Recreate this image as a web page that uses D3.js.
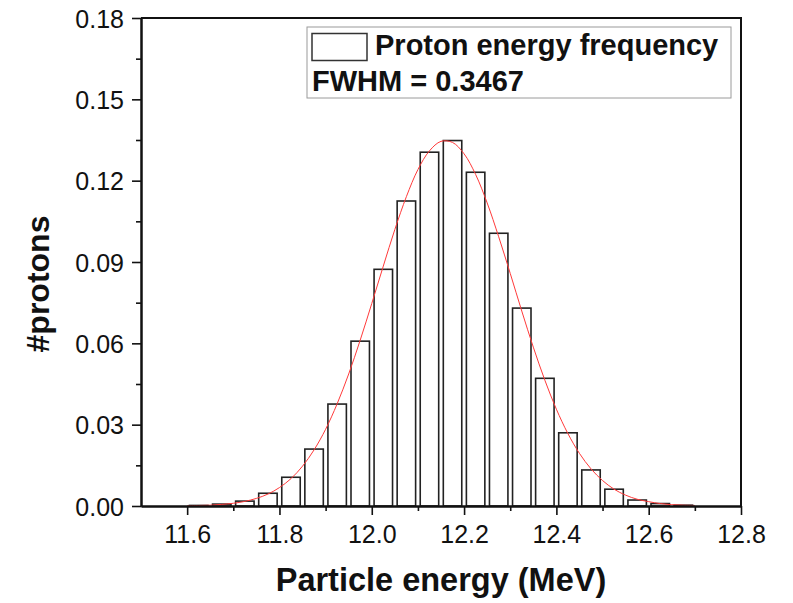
<!DOCTYPE html>
<html>
<head>
<meta charset="utf-8">
<script src="https://cdn.jsdelivr.net/npm/d3@7"></script>
<style>
  html, body { margin: 0; padding: 0; background: #fff; }
  svg { display: block; font-family: "Liberation Sans", Arial, Helvetica, sans-serif; }
</style>
</head>
<body>
<svg id="chart" width="793" height="603"></svg>
<script>
// ---- data ----
const binCenters = [11.625, 11.675, 11.725, 11.775, 11.825, 11.875, 11.925, 11.975, 12.025, 12.075, 12.125,
                    12.175, 12.225, 12.275, 12.325, 12.375, 12.425, 12.475, 12.525, 12.575, 12.625, 12.675];
const binValues  = [0.0002, 0.0007, 0.0018, 0.0047, 0.0106, 0.0210, 0.0376, 0.0608, 0.0873, 0.1125, 0.1305,
                    0.1348, 0.1231, 0.1006, 0.0730, 0.0471, 0.0270, 0.0133, 0.0062, 0.0022, 0.0009, 0.0003];
const binWidth = 0.04;

// Gaussian fit curve (red line)
const fitX = [11.600, 11.625, 11.650, 11.675, 11.700, 11.725, 11.750, 11.775, 11.800, 11.825, 11.850, 11.875,
              11.900, 11.925, 11.950, 11.975, 12.000, 12.025, 12.050, 12.075, 12.100, 12.125, 12.150, 12.175,
              12.200, 12.225, 12.250, 12.275, 12.300, 12.325, 12.350, 12.375, 12.400, 12.425, 12.450, 12.475,
              12.500, 12.525, 12.550, 12.575, 12.600, 12.625, 12.650, 12.675, 12.700];
const fitY = [0.0001, 0.0002, 0.0003, 0.0006, 0.0010, 0.0017, 0.0028, 0.0044, 0.0068, 0.0101, 0.0147, 0.0207,
              0.0283, 0.0377, 0.0487, 0.0612, 0.0747, 0.0885, 0.1020, 0.1141, 0.1241, 0.1310, 0.1345, 0.1341,
              0.1299, 0.1223, 0.1118, 0.0993, 0.0858, 0.0719, 0.0586, 0.0464, 0.0357, 0.0267, 0.0194, 0.0137,
              0.0094, 0.0062, 0.0040, 0.0025, 0.0016, 0.0009, 0.0005, 0.0003, 0.0002];

const xTicks = [11.6, 11.8, 12.0, 12.2, 12.4, 12.6, 12.8];
const xMinorTicks = [11.7, 11.9, 12.1, 12.3, 12.5, 12.7];
const yTicks = [0.00, 0.03, 0.06, 0.09, 0.12, 0.15, 0.18];
const yMinorTicks = [0.015, 0.045, 0.075, 0.105, 0.135, 0.165];

const xLabel = "Particle energy (MeV)";
const yLabel = "#protons";
const legendLabel = "Proton energy frequency";
const fwhmLabel = "FWHM = 0.3467";

// ---- layout ----
const svg = d3.select("#chart");
const L = 141, R = 741, T = 18, B = 506;

const x = d3.scaleLinear().domain([11.5, 12.8]).range([L, R]);
const y = d3.scaleLinear().domain([0, 0.18]).range([B, T]);

// bars
svg.append("g").selectAll("rect")
  .data(binCenters.map((c, i) => ({c, v: binValues[i]})))
  .join("rect")
  .attr("x", d => x(d.c - binWidth / 2))
  .attr("width", d => x(d.c + binWidth / 2) - x(d.c - binWidth / 2))
  .attr("y", d => y(d.v))
  .attr("height", d => y(0) - y(d.v))
  .attr("fill", "#fff")
  .attr("stroke", "#222")
  .attr("stroke-width", 1.6);

// fit curve
const line = d3.line()
  .x((d, i) => x(fitX[i]))
  .y(d => y(d))
  .curve(d3.curveCatmullRom);
svg.append("path")
  .attr("d", line(fitY))
  .attr("fill", "none")
  .attr("stroke", "#ff3a3a")
  .attr("stroke-width", 1);

// frame (top & right)
svg.append("path")
  .attr("d", `M${L},${T}H${R}V${B}`)
  .attr("fill", "none")
  .attr("stroke", "#111")
  .attr("stroke-width", 2);

// axes
const xAxis = svg.append("g").attr("transform", `translate(0,${B})`)
  .call(d3.axisBottom(x).tickValues(xTicks).tickFormat(d3.format(".1f")).tickSizeInner(9).tickSizeOuter(0).tickPadding(10));
const xAxisMinor = svg.append("g").attr("transform", `translate(0,${B})`)
  .call(d3.axisBottom(x).tickValues(xMinorTicks).tickFormat("").tickSizeInner(5).tickSizeOuter(0));
const yAxis = svg.append("g").attr("transform", `translate(${L},0)`)
  .call(d3.axisLeft(y).tickValues(yTicks).tickFormat(d3.format(".2f")).tickSizeInner(9).tickSizeOuter(0).tickPadding(8));
const yAxisMinor = svg.append("g").attr("transform", `translate(${L},0)`)
  .call(d3.axisLeft(y).tickValues(yMinorTicks).tickFormat("").tickSizeInner(5).tickSizeOuter(0));

[xAxis, xAxisMinor, yAxis, yAxisMinor].forEach(g => {
  g.select(".domain").attr("stroke", "#111").attr("stroke-width", 2);
  g.selectAll(".tick line").attr("stroke", "#111").attr("stroke-width", 1.6);
  g.selectAll(".tick text").attr("font-size", 25).attr("fill", "#111")
    .attr("font-family", '"Liberation Sans", Arial, sans-serif');
});
xAxis.selectAll(".tick text").attr("dy", "0.71em");
yAxis.selectAll(".tick text").attr("dy", "0.36em");

// axis titles
svg.append("text")
  .attr("x", (L + R) / 2).attr("y", 591)
  .attr("text-anchor", "middle")
  .attr("font-size", 32.5).attr("font-weight", "bold").attr("fill", "#111")
  .text(xLabel);
svg.append("text")
  .attr("transform", `translate(49,${(215 + 353) / 2}) rotate(-90)`)
  .attr("text-anchor", "middle")
  .attr("font-size", 32).attr("font-weight", "bold").attr("fill", "#111")
  .text(yLabel);

// legend
const lg = svg.append("g");
lg.append("rect").attr("x", 307).attr("y", 27).attr("width", 424).attr("height", 71)
  .attr("fill", "#fff").attr("stroke", "#9a9a9a").attr("stroke-width", 1);
lg.append("rect").attr("x", 312).attr("y", 33.5).attr("width", 55).attr("height", 27)
  .attr("fill", "#fff").attr("stroke", "#333").attr("stroke-width", 1.5);
lg.append("text").attr("x", 375).attr("y", 55)
  .attr("font-size", 29).attr("font-weight", "bold").attr("fill", "#111")
  .text(legendLabel);
lg.append("text").attr("x", 312).attr("y", 91)
  .attr("font-size", 29).attr("font-weight", "bold").attr("fill", "#111")
  .text(fwhmLabel);
</script>
</body>
</html>
